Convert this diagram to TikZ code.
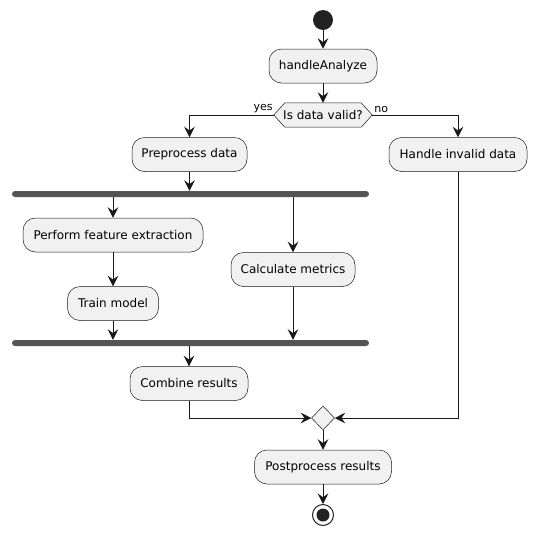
\documentclass[tikz,border=0pt]{standalone}
\usepackage{fontspec}
\setmainfont{DejaVu Sans}
\usetikzlibrary{arrows.meta,shapes.geometric,calc}
\definecolor{linec}{HTML}{181818}
\definecolor{boxfill}{HTML}{F1F1F1}
\definecolor{barc}{HTML}{555555}
\definecolor{dotc}{HTML}{222222}
\tikzset{
  act/.style={draw=linec, line width=0.5pt, fill=boxfill, rounded corners=12.5pt,
    minimum height=34pt, inner sep=0pt, font=\fontsize{12}{14}\selectfont},
  bar/.style={fill=barc, rounded corners=3pt, minimum height=6pt, inner sep=0pt},
  arr/.style={draw=linec, line width=1pt, -{Stealth[length=10.5pt,width=10.5pt,inset=3.8pt]}},
  plain/.style={draw=linec, line width=1pt},
  lbl/.style={font=\fontsize{11}{13}\selectfont, inner sep=1pt}
}
\begin{document}
\begin{tikzpicture}[x=1pt, y=-1pt]
\useasboundingbox (0,0) rectangle (536,536);
% start / end
\node (start) [circle, fill=dotc, minimum size=20pt, inner sep=0pt] at (323,20) {};
\node (handle) [act, minimum width=108pt] at (323,66) {handleAnalyze};
% decision
\node (valid) [minimum width=98pt, minimum height=24pt, inner sep=0pt,
  font=\fontsize{12}{14}\selectfont] at (323,115) {Is data valid?};
\draw[draw=linec, line width=0.5pt, fill=boxfill]
  (valid.west) -- ($(valid.north west)+(11,0)$) -- ($(valid.north east)+(-11,0)$)
  -- (valid.east) -- ($(valid.south east)+(-11,0)$) -- ($(valid.south west)+(11,0)$) -- cycle;
\node [minimum width=98pt, minimum height=24pt, inner sep=0pt,
  font=\fontsize{12}{14}\selectfont] at (valid) {Is data valid?};
\node [lbl, anchor=south east] at ($(valid.west)+(0,-1)$) {yes};
\node [lbl, anchor=south west] at ($(valid.east)+(1,-1)$) {no};
% actions
\node (pre) [act, minimum width=115pt] at (189.5,154.5) {Preprocess data};
\node (inv) [act, minimum width=138pt] at (458,154.5) {Handle invalid data};
\node (fork) [bar, minimum width=357pt] at (190.5,194) {};
\node (feat) [act, minimum width=180pt] at (113,235) {Perform feature extraction};
\node (train) [act, minimum width=91pt] at (113,303.5) {Train model};
\node (calc) [act, minimum width=124pt] at (293,269.5) {Calculate metrics};
\node (join) [bar, minimum width=357pt] at (190.5,343) {};
\node (comb) [act, minimum width=118pt] at (189,383.5) {Combine results};
\node (merge) [diamond, draw=linec, line width=0.5pt, fill=boxfill, inner sep=0pt,
  minimum width=23pt, minimum height=24pt] at (323,418) {};
\node (post) [act, minimum width=137pt] at (323,467) {Postprocess results};
\node (end) [circle, draw=dotc, line width=1pt, fill=white, minimum size=21pt, inner sep=0pt,
  path picture={\fill[dotc] (path picture bounding box.center) circle (6.5pt);}] at (323,515) {};
% connectors
\draw[arr] (start) -- (handle);
\draw[arr] (handle) -- (valid.north);
\draw[arr] (valid.west) -| (pre.north);
\draw[arr] (valid.east) -| (inv.north);
\draw[arr] (pre) -- (pre |- fork.north);
\draw[arr] (feat |- fork.south) -- (feat);
\draw[arr] (calc |- fork.south) -- (calc);
\draw[arr] (feat) -- (train);
\draw[arr] (train) -- (train |- join.north);
\draw[arr] (calc) -- (calc |- join.north);
\draw[arr] (comb |- join.south) -- (comb);
\draw[arr] (comb.south) |- (merge.west);
\draw[arr] (inv.south) |- (merge.east);
\draw[arr] (merge) -- (post);
\draw[arr] (post) -- (end);
\end{tikzpicture}
\end{document}
